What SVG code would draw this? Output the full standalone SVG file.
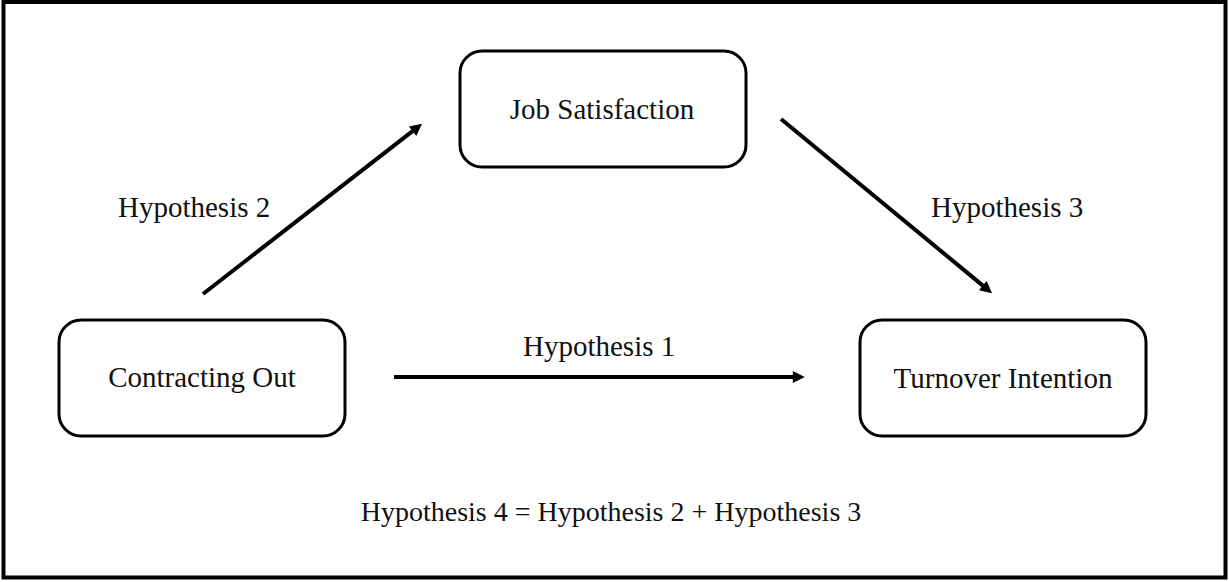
<svg xmlns="http://www.w3.org/2000/svg" width="1229" height="582" viewBox="0 0 1229 582">
<style>
.node rect{fill:#fff;stroke:#000;stroke-width:3}
text{font-family:"Liberation Serif","Times New Roman",serif;font-size:29px;fill:#111}
.c{text-anchor:middle}
.conn line{stroke:#000;stroke-width:4}
</style>
<defs>
<marker id="ah" viewBox="0 0 10 10" refX="4" refY="5" markerWidth="3.5" markerHeight="3" orient="auto" markerUnits="strokeWidth">
<path d="M0,0 L10,5 L0,10 Z" fill="#000"/>
</marker>
</defs>
<rect x="0" y="0" width="1229" height="582" fill="#fff"/>
<rect x="3.5" y="2" width="1222" height="575.5" fill="none" stroke="#000" stroke-width="4"/>
<g id="node-job" class="node">
<rect x="460" y="51" width="286" height="116" rx="22"/>
<text class="c" x="602" y="119">Job Satisfaction</text>
</g>
<g id="node-contracting" class="node">
<rect x="59" y="320" width="286" height="116" rx="22"/>
<text class="c" x="202" y="387">Contracting Out</text>
</g>
<g id="node-turnover" class="node">
<rect x="860" y="320" width="286" height="116" rx="22"/>
<text class="c" x="1003" y="388">Turnover Intention</text>
</g>
<g id="connectors" class="conn">
<line x1="203" y1="294" x2="416.4" y2="128.2" marker-end="url(#ah)"/>
<line x1="781" y1="119" x2="986.5" y2="288.6" marker-end="url(#ah)"/>
<line x1="394" y1="377" x2="797.6" y2="377" marker-end="url(#ah)"/>
</g>
<g id="labels">
<text x="118" y="217">Hypothesis 2</text>
<text x="931" y="217">Hypothesis 3</text>
<text x="523" y="356">Hypothesis 1</text>
<text class="c" x="611" y="521" style="font-size:28px">Hypothesis 4 = Hypothesis 2 + Hypothesis 3</text>
</g>
</svg>
